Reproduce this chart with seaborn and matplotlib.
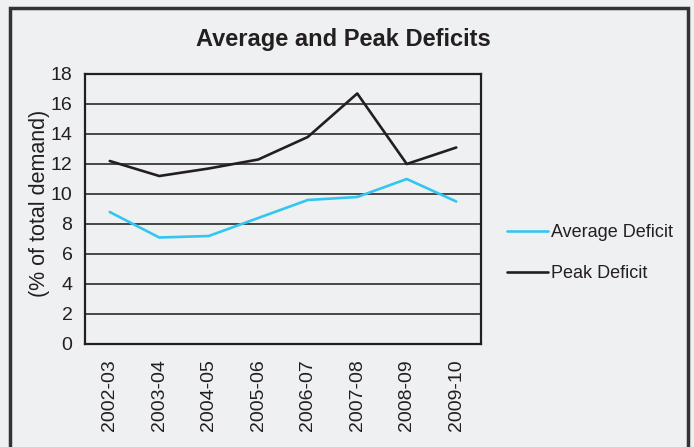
import matplotlib
matplotlib.use("Agg")
import matplotlib.pyplot as plt
from matplotlib.patches import Rectangle
import seaborn as sns
import pandas as pd

years = ["2002-03", "2003-04", "2004-05", "2005-06",
         "2006-07", "2007-08", "2008-09", "2009-10"]
average_deficit = [8.8, 7.1, 7.2, 8.4, 9.6, 9.8, 11.0, 9.5]
peak_deficit = [12.2, 11.2, 11.7, 12.3, 13.8, 16.7, 12.0, 13.1]
y_ticks = [0, 2, 4, 6, 8, 10, 12, 14, 16, 18]

bg = "#eff0f2"
ink = "#231f20"
sns.set_theme(style="white")
plt.rcParams["font.family"] = ["Liberation Sans", "DejaVu Sans"]

df = pd.DataFrame({
    "Year": years * 2,
    "Value": average_deficit + peak_deficit,
    "Series": ["Average Deficit"] * len(years) + ["Peak Deficit"] * len(years),
})

fig = plt.figure(figsize=(6.94, 4.47), dpi=100, facecolor=bg)
ax = fig.add_axes([85 / 694, 1 - 344 / 447, 396 / 694, 270 / 447])
ax.set_facecolor(bg)

sns.lineplot(data=df, x="Year", y="Value", hue="Series",
             palette={"Average Deficit": "#33c6f0", "Peak Deficit": ink},
             linewidth=1.9, ax=ax, legend=True, sort=False)

ax.set_xlim(-0.5, len(years) - 0.5)
ax.set_ylim(0, 18)
ax.set_yticks(y_ticks)
ax.set_yticklabels([str(t) for t in y_ticks], fontsize=14, color=ink)
ax.set_xticks(range(len(years)))
ax.set_xticklabels(years, rotation=90, fontsize=14, color=ink)
ax.tick_params(axis="y", length=0, pad=9)
ax.tick_params(axis="x", length=0, pad=11)
ax.set_xlabel("")
ax.set_ylabel("(% of total demand)", fontsize=15.5, color=ink)
ax.yaxis.set_label_coords(-0.088, 0.522)

for t in y_ticks[1:-1]:
    ax.axhline(t, color="#2a2a2a", linewidth=1.2, zorder=0.5)
for s in ax.spines.values():
    s.set_color(ink)
    s.set_linewidth(1.6)

leg = ax.legend(loc="center left", bbox_to_anchor=(1.025, 0.337), frameon=False,
                fontsize=13, handlelength=2.27, handletextpad=0.15,
                labelspacing=1.31)
for txt in leg.get_texts():
    txt.set_color(ink)

fig.text(0.495, 0.912, "Average and Peak Deficits", ha="center", va="center",
         fontsize=17, fontweight="bold", color=ink)

fig.patches.append(Rectangle((10 / 694, -0.05), 678 / 694, 1 - 8 / 447 + 0.05,
                             transform=fig.transFigure, fill=False,
                             edgecolor="#333333", linewidth=2.5))

fig.savefig("out.png", dpi=100, facecolor=bg)
